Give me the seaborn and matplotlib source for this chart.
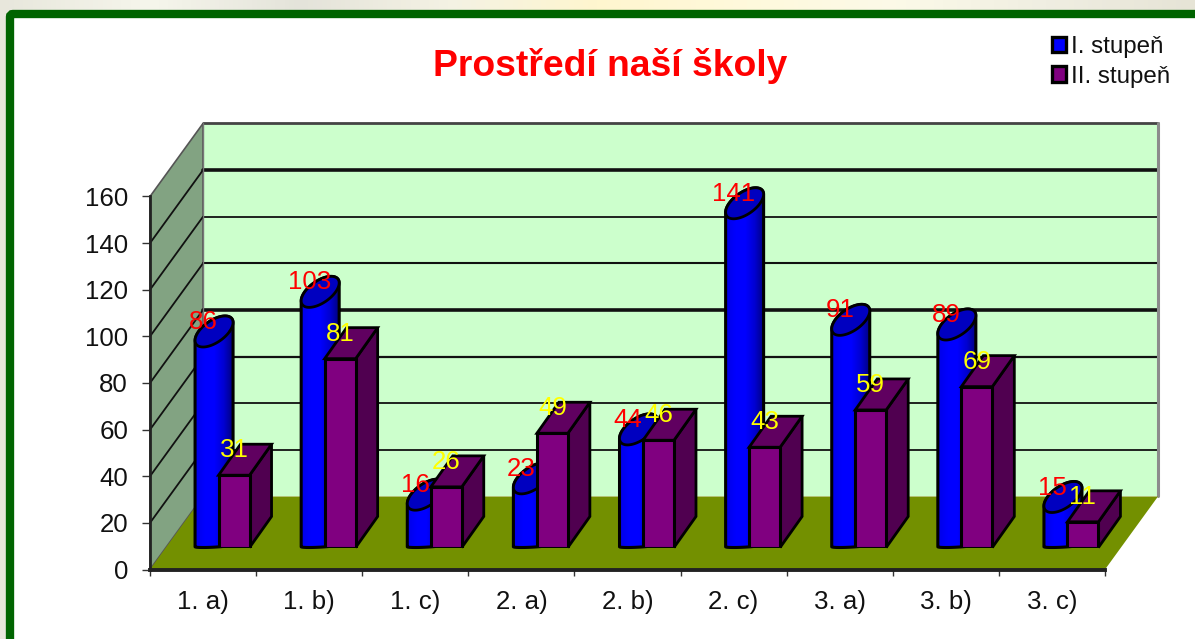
import numpy as np
import pandas as pd
import seaborn as sns
import matplotlib.pyplot as plt
from matplotlib.colors import LinearSegmentedColormap
from matplotlib.patches import FancyBboxPatch, Patch, Polygon

# data
classes = ["1. a)", "1. b)", "1. c)", "2. a)", "2. b)", "2. c)", "3. a)", "3. b)", "3. c)"]
stage_one = [86, 103, 16, 23, 44, 141, 91, 89, 15]
stage_two = [31, 81, 26, 49, 46, 43, 59, 69, 11]
series_names = ["I. stupeň", "II. stupeň"]
y_ticks = [0, 20, 40, 60, 80, 100, 120, 140, 160]
title = "Prostředí naší školy"

W, H = 1195, 639
BLUE, PURPLE = "#0000FF", "#800080"

sns.set_style("white")
plt.rcParams["font.family"] = ["Liberation Sans", "DejaVu Sans"]

df = pd.DataFrame({
    "trida": classes * 2,
    "pocet": stage_one + stage_two,
    "stupen": [series_names[0]] * 9 + [series_names[1]] * 9,
})


def box(left, right, top, bottom):
    # pixel box -> figure fractions
    return [left / W, 1 - bottom / H, (right - left) / W, (bottom - top) / H]


fig = plt.figure(figsize=(W / 100, H / 100), dpi=100, facecolor="#F8F6E6")

# background and the green frame, in pixels
bg = fig.add_axes([0, 0, 1, 1], zorder=0)
bg.set_xlim(0, W)
bg.set_ylim(H, 0)
bg.axis("off")
bg_colors = ["#E8E7DC", "#F6F6EC", "#E4E3DA", "#F4F2E4", "#FFF6CF", "#FFF9DC", "#FCFAE8", "#F0EEE2", "#E6E4D6"]
strip = LinearSegmentedColormap.from_list("strip", bg_colors)
bg.imshow(np.linspace(0, 1, 256)[None, :], cmap=strip, extent=(0, W, H, 0), aspect="auto")
bg.add_patch(FancyBboxPatch((10, 14), W + 60, H + 60, boxstyle="round,pad=0,rounding_size=3",
                            fc="white", ec="#006400", lw=6))

# walls and floor
ax = fig.add_axes(box(150, 1105, 196.5, 569.5), zorder=1)
ax.patch.set_alpha(0)
ax.set_xlim(-0.5, 8.5)
ax.set_ylim(0, 160)
wall_dx, wall_dy = 53 / 106.1, 73 / 2.33
x0, x1 = -0.5, 8.5
ax.add_patch(Polygon([(x0 + wall_dx, wall_dy), (x1 + wall_dx, wall_dy), (x1 + wall_dx, 160 + wall_dy),
                      (x0 + wall_dx, 160 + wall_dy)], fc="#CCFFCC", ec="none", clip_on=False))
ax.add_patch(Polygon([(x0, 0), (x0 + wall_dx, wall_dy), (x0 + wall_dx, 160 + wall_dy), (x0, 160)],
                     fc="#82A382", ec="#555555", lw=1.2, clip_on=False))
ax.add_patch(Polygon([(x0, 0), (x1, 0), (x1 + wall_dx, wall_dy), (x0 + wall_dx, wall_dy)],
                     fc="#739000", ec="none", clip_on=False, zorder=2))

grid_widths = {140: 2.6, 80: 2.6, 100: 1.5, 60: 1.6, 40: 1.3, 20: 1.3, 120: 1.3}
for tick, lw in grid_widths.items():
    ax.plot([x0 + wall_dx, x1 + wall_dx], [tick + wall_dy] * 2, color="#111111", lw=lw, clip_on=False, zorder=1.5)
    ax.plot([x0, x0 + wall_dx], [tick, tick + wall_dy], color="#111111", lw=1.3, clip_on=False, zorder=1.5)
ax.plot([x0 + wall_dx, x1 + wall_dx], [160 + wall_dy] * 2, color="#444444", lw=2, clip_on=False, zorder=1.5)
ax.plot([x1 + wall_dx] * 2, [wall_dy, 160 + wall_dy], color="#8C8C8C", lw=2.2, clip_on=False, zorder=1.5)
ax.plot([x0 + wall_dx] * 2, [wall_dy, 160 + wall_dy], color="#777777", lw=1, clip_on=False, zorder=1.5)

sns.despine(ax=ax, top=True, right=True)
for side in ["left", "bottom"]:
    ax.spines[side].set_color("#222222")
    ax.spines[side].set_zorder(3)
ax.spines["left"].set_linewidth(2)
ax.spines["bottom"].set_linewidth(2.8)
ax.set_yticks(y_ticks)
ax.set_yticklabels([str(t) for t in y_ticks], fontsize=18.6, color="#111111")
ax.set_xticks(np.arange(-0.5, 9, 1))
ax.set_xticklabels([])
ax.set_xticks(np.arange(9), classes, minor=True, fontsize=18.6, color="#111111")
ax.tick_params(axis="y", length=5.8, width=1, pad=10, left=True, color="#333333")
ax.tick_params(axis="x", which="major", length=4.5, width=1, bottom=True, color="#333333")
ax.tick_params(axis="x", which="minor", length=0, pad=14.5)

# bars, on an axes moved to the middle of the floor depth
shift_x, shift_y = 15.5, 22
bars = fig.add_axes(box(150 + shift_x, 1105 + shift_x, 196.5 - shift_y, 569.5 - shift_y), zorder=2)
sns.barplot(data=df, x="trida", y="pocet", hue="stupen", order=classes, hue_order=series_names,
            palette=[BLUE, PURPLE], width=0.584, gap=0, legend=False, saturation=1,
            edgecolor="black", linewidth=2.2, ax=bars)
bars.set_xlim(-0.5, 8.5)
bars.set_ylim(0, 160)
bars.axis("off")

depth_x, depth_y = 22 / 106.1, 31 / 2.33
shade = LinearSegmentedColormap.from_list("cyl", ["#0000E8", "#0000FF", "#0000FF", "#0000D0", "#000078"])


def draw_cylinder(rect):
    left, w, h = rect.get_x(), rect.get_width(), rect.get_height()
    cx = left + w / 2 + depth_x / 2
    t_edge = np.arctan2(depth_x / 2, w / 2)
    span = np.linspace(t_edge, t_edge + np.pi, 40)

    def ring(t, level, flat=1.0):
        # flat squeezes the foot of the cylinder, the reference draws it almost straight
        return np.column_stack([cx + w / 2 * np.cos(t) + depth_x / 2 * np.sin(t),
                                level + flat * depth_y / 2 * (1 + np.sin(t))])

    def top_ring(t):
        return ring(t, h)

    outline = np.vstack([top_ring(span), ring(span + np.pi, 0, 0.12)])
    body = Polygon(outline, fc="none", ec="black", lw=2.2, zorder=3.2, clip_on=False)
    bars.add_patch(body)
    img = bars.imshow(np.linspace(0, 1, 64)[None, :], cmap=shade, aspect="auto", zorder=3,
                      extent=(outline[:, 0].min(), outline[:, 0].max(), 0, h + depth_y))
    img.set_clip_path(Polygon(outline, transform=bars.transData))
    cap = top_ring(np.linspace(0, 2 * np.pi, 80))
    bars.add_patch(Polygon(cap, fc="#0000C0", ec="black", lw=2, zorder=3.3, clip_on=False))


def draw_block(rect):
    left, w, h = rect.get_x(), rect.get_width(), rect.get_height()
    right = left + w
    rect.set_zorder(5)
    bars.add_patch(Polygon([(right, 0), (right + depth_x, depth_y), (right + depth_x, h + depth_y), (right, h)],
                           fc="#500050", ec="black", lw=2, zorder=4, clip_on=False))
    bars.add_patch(Polygon([(left, h), (right, h), (right + depth_x, h + depth_y), (left + depth_x, h + depth_y)],
                           fc="#600060", ec="black", lw=2, zorder=4, clip_on=False))


for rect in bars.containers[0]:
    rect.set_visible(False)
    draw_cylinder(rect)
for rect in bars.containers[1]:
    draw_block(rect)

bars.set_xlim(-0.5, 8.5)
bars.set_ylim(0, 160)

for container, values, color in zip(bars.containers, [stage_one, stage_two], ["#FF0000", "#FFFF00"]):
    for rect, value in zip(container, values):
        bars.annotate(str(value), (rect.get_x() + rect.get_width() / 2, value), xytext=(0, 18),
                      textcoords="offset points", ha="center", va="center", fontsize=18.6,
                      color=color, zorder=8, annotation_clip=False)

fig.text(610 / W, 1 - 66.5 / H, title, color="#FF0000", fontsize=26.8, fontweight="bold", ha="center", va="center")

handles = [Patch(fc=BLUE, ec="black", lw=2.4), Patch(fc=PURPLE, ec="black", lw=2.4)]
fig.legend(handles, series_names, loc="upper left", bbox_to_anchor=(1047 / W, 1 - 31 / H), frameon=False,
           fontsize=17.4, handlelength=0.6, handleheight=0.6, handletextpad=0.18, labelspacing=0.32,
           borderpad=0.2, borderaxespad=0, labelcolor="#111111")

fig.savefig("out.png", dpi=100, facecolor=fig.get_facecolor())
